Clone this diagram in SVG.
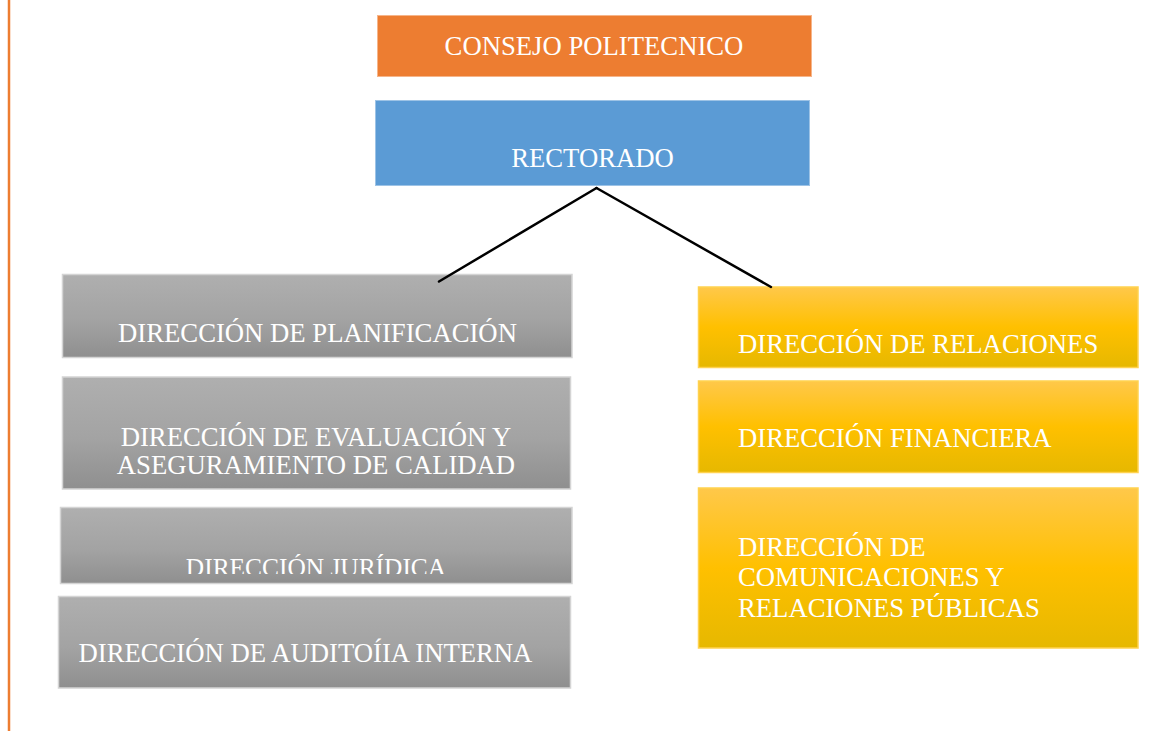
<svg xmlns="http://www.w3.org/2000/svg" width="1170" height="731" viewBox="0 0 1170 731">
<style>
text{font-family:"Liberation Serif","Times New Roman",serif;font-size:26.7px;fill:#ffffff}
.gray{fill:url(#gGray);stroke:#d4d4d4;stroke-width:1.5}
.yel{fill:url(#gYel);stroke:#ffd24f;stroke-width:1.5}
.conn line{stroke:#000;stroke-width:2.5;stroke-linecap:round}
</style>
<defs>
<linearGradient id="gGray" x1="0" y1="0" x2="0" y2="1">
<stop offset="0" stop-color="#afafaf"/>
<stop offset="0.55" stop-color="#a3a3a3"/>
<stop offset="1" stop-color="#8f8f8f"/>
</linearGradient>
<linearGradient id="gYel" x1="0" y1="0" x2="0" y2="1">
<stop offset="0" stop-color="#ffc84a"/>
<stop offset="0.5" stop-color="#ffc000"/>
<stop offset="1" stop-color="#e6b800"/>
</linearGradient>
<clipPath id="clipJur"><rect x="60" y="507" width="512" height="67"/></clipPath>
</defs>
<rect width="1170" height="731" fill="#ffffff"/>
<line x1="9" y1="0" x2="9" y2="731" stroke="#ed7d31" stroke-width="2.5"/>
<g id="consejo">
<rect x="377.5" y="15.5" width="434" height="61" fill="#ed7d31" stroke="#f6b58a" stroke-width="1"/>
<text x="594" y="55" text-anchor="middle">CONSEJO POLITECNICO</text>
</g>
<g id="rectorado">
<rect x="375.5" y="100.5" width="434" height="85" fill="#5b9bd5" stroke="#9dc3e6" stroke-width="1"/>
<text x="592.5" y="167" text-anchor="middle">RECTORADO</text>
</g>
<g id="planificacion">
<rect class="gray" x="62.5" y="274.5" width="509.5" height="83"/>
<text x="317.5" y="341.5" text-anchor="middle">DIRECCIÓN DE PLANIFICACIÓN</text>
</g>
<g id="evaluacion">
<rect class="gray" x="62.5" y="377" width="508" height="112"/>
<text x="316" y="445.5" text-anchor="middle">DIRECCIÓN DE EVALUACIÓN Y</text>
<text x="316" y="474" text-anchor="middle">ASEGURAMIENTO DE CALIDAD</text>
</g>
<g id="juridica">
<rect class="gray" x="60.5" y="507.5" width="511.5" height="76"/>
<text x="316" y="576" text-anchor="middle" style="font-size:25.4px" clip-path="url(#clipJur)">DIRECCIÓN JURÍDICA</text>
</g>
<g id="auditoria">
<rect class="gray" x="58.5" y="596.5" width="512" height="91.5"/>
<text x="78.5" y="662">DIRECCIÓN DE AUDITOÍIA INTERNA</text>
</g>
<g id="relaciones">
<rect class="yel" x="698.5" y="287" width="439.5" height="80.5"/>
<text x="738" y="353">DIRECCIÓN DE RELACIONES</text>
</g>
<g id="financiera">
<rect class="yel" x="698.5" y="381" width="439.5" height="91.5"/>
<text x="738" y="447">DIRECCIÓN FINANCIERA</text>
</g>
<g id="comunicaciones">
<rect class="yel" x="698.5" y="488" width="439.5" height="160"/>
<text x="738" y="556">DIRECCIÓN DE</text>
<text x="738" y="586">COMUNICACIONES Y</text>
<text x="738" y="616.5">RELACIONES PÚBLICAS</text>
</g>
<g class="conn" id="connectors">
<line x1="596.5" y1="188" x2="439" y2="281.5"/>
<line x1="596.5" y1="188" x2="771" y2="287"/>
</g>
</svg>
